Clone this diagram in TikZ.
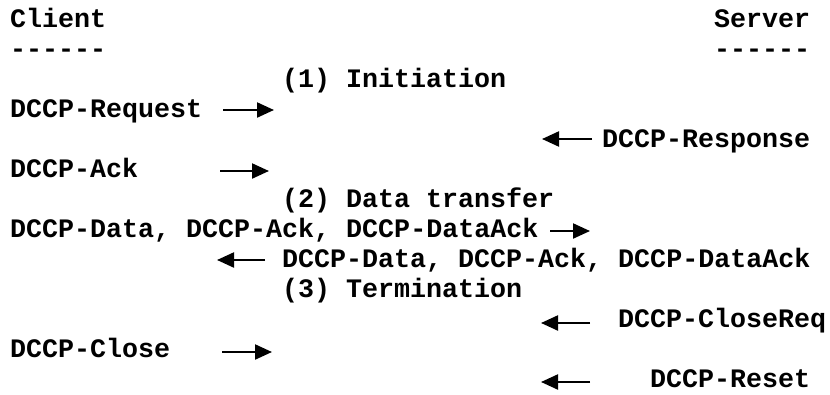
\documentclass[tikz,border=0pt]{standalone}
\usepackage{fontspec}
\setmonofont{Liberation Mono}
\usetikzlibrary{arrows.meta}
\begin{document}
\begin{tikzpicture}[x=1pt,y=-1pt,
  lbl/.style={anchor=base west, inner sep=0pt, font=\fontsize{26.67}{30}\selectfont\ttfamily\bfseries},
  msg/.style={line width=2.2pt, -{Triangle[length=17pt 0 0,width=15pt 0 0]}, shorten >=-1pt}]
\useasboundingbox (0,0) rectangle (830,394);
\fill[white] (0,0) rectangle (830,394);
% headers
\node[lbl] (client) at (10,27) {Client};
\node[lbl] (server) at (714,27) {Server};
\node[lbl] (cdash) at (10,57) {-{}-{}-{}-{}-{}-};
\node[lbl] (sdash) at (714,57) {-{}-{}-{}-{}-{}-};
% phase 1
\node[lbl] (ph1) at (282,87) {(1) Initiation};
\node[lbl] (req) at (10,117) {DCCP-Request};
\coordinate (reqA) at (223,110); \coordinate (reqB) at (273,110);
\draw[msg] (reqA) -- (reqB);
\node[lbl] (resp) at (602,147) {DCCP-Response};
\coordinate (respA) at (592,139); \coordinate (respB) at (543,139);
\draw[msg] (respA) -- (respB);
\node[lbl] (ack) at (10,177) {DCCP-Ack};
\coordinate (ackA) at (220,171); \coordinate (ackB) at (268,171);
\draw[msg] (ackA) -- (ackB);
% phase 2
\node[lbl] (ph2) at (282,207) {(2) Data transfer};
\node[lbl] (dataC) at (10,237) {DCCP-Data, DCCP-Ack, DCCP-DataAck};
\coordinate (dcA) at (550,231); \coordinate (dcB) at (589,231);
\draw[msg] (dcA) -- (dcB);
\node[lbl] (dataS) at (282,267) {DCCP-Data, DCCP-Ack, DCCP-DataAck};
\coordinate (dsA) at (265,260); \coordinate (dsB) at (218,260);
\draw[msg] (dsA) -- (dsB);
% phase 3
\node[lbl] (ph3) at (282,297) {(3) Termination};
\node[lbl] (creq) at (618,327) {DCCP-CloseReq};
\coordinate (crA) at (590,323); \coordinate (crB) at (542,323);
\draw[msg] (crA) -- (crB);
\node[lbl] (close) at (10,357) {DCCP-Close};
\coordinate (clA) at (222,352); \coordinate (clB) at (271,352);
\draw[msg] (clA) -- (clB);
\node[lbl] (reset) at (650,387) {DCCP-Reset};
\coordinate (rsA) at (590,382); \coordinate (rsB) at (542,382);
\draw[msg] (rsA) -- (rsB);
\end{tikzpicture}
\end{document}
